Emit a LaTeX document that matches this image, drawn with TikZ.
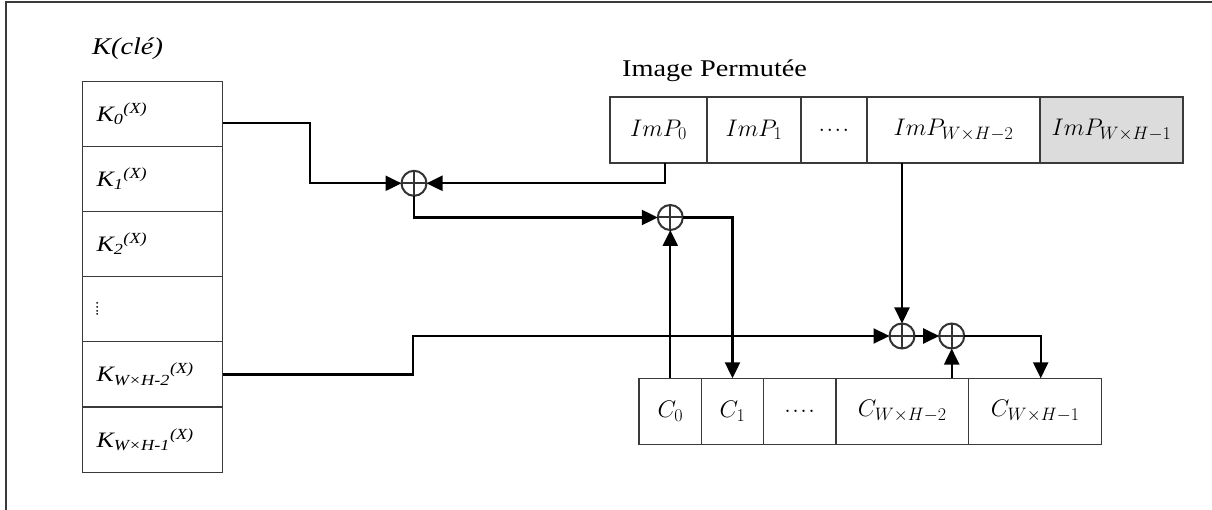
\RequirePackage{fix-cm}
\documentclass[tikz,border=0pt]{standalone}
\usepackage{fontspec}
\setmainfont{Liberation Serif}
\usetikzlibrary{arrows.meta,calc}
\DeclareMathSizes{24}{24}{18}{14}
\definecolor{boxgray}{HTML}{3A3A3A}
\definecolor{xorgray}{HTML}{333333}
\definecolor{cellfill}{HTML}{DCDCDC}
% slightly widened lettering
\newcommand{\sx}[1]{\scalebox{1.18}[1]{#1}}
\tikzset{
  cell/.style={draw=boxgray,line width=1.1pt,inner sep=0pt,outer sep=0pt,minimum height=65pt},
  kcell/.style={cell,minimum width=140pt,text width=112pt,align=left,inner xsep=14pt,
    font=\fontsize{22}{24}\selectfont\itshape},
  mcell/.style={cell,minimum height=66pt,font=\fontsize{24}{26}\selectfont},
  xorop/.style={circle,draw=xorgray,line width=2pt,minimum size=25pt,inner sep=0pt,outer sep=0pt,
    path picture={\draw[xorgray,line width=2pt]
      (path picture bounding box.north) -- (path picture bounding box.south)
      (path picture bounding box.west) -- (path picture bounding box.east);}},
  conn/.style={line width=2.2pt,-{Triangle[length=16pt,width=15pt]}},
  title/.style={inner sep=0pt,font=\fontsize{24}{26}\selectfont},
}
\begin{document}
\begin{tikzpicture}[x=1pt,y=-1pt]
\useasboundingbox (0,0) rectangle (1212,510);
% frame
\draw[line width=2pt,boxgray] (5.5,510) -- (5.5,2.5) -- (1212,2.5);

% key column
\node[title,anchor=base west] (ktitle) at (92,55) {\sx{\textit{K(clé)}}};
\node[kcell] (k0)  at (152.5,113.6) {\sx{K\textsubscript{0}\textsuperscript{(X)}}};
\node[kcell] (k1)  at (152.5,178.8) {\sx{K\textsubscript{1}\textsuperscript{(X)}}};
\node[kcell] (k2)  at (152.5,244.0) {\sx{K\textsubscript{2}\textsuperscript{(X)}}};
\node[kcell] (kd)  at (152.5,309.2) {\rotatebox{-90}{\fontsize{15}{15}\selectfont\upshape ....}};
\node[kcell] (kw2) at (152.5,374.4) {\sx{K\textsubscript{W×H-2}\textsuperscript{(X)}}};
\node[kcell] (kw1) at (152.5,439.6) {\sx{K\textsubscript{W×H-1}\textsuperscript{(X)}}};

% permuted image
\node[title,anchor=base west] (ptitle) at (622,77) {\sx{Image Permutée}};
\node[mcell,minimum width=97pt]  (imp0)  at (658.5,130) {$ImP_0$};
\node[mcell,minimum width=94pt]  (imp1)  at (754,130)   {$ImP_1$};
\node[mcell,minimum width=66pt]  (impd)  at (834,130)   {$.\hspace{1.5pt}.\hspace{1.5pt}.\hspace{1.5pt}.$};
\node[mcell,minimum width=173pt] (impw2) at (953.5,130) {$ImP_{W\times H-2}$};
\node[mcell,minimum width=143pt,fill=cellfill] (impw1) at (1111.5,130) {$ImP_{W\times H-1}$};

% cipher blocks
\node[mcell,minimum width=62.7pt] (c0)  at (670.3,411.3)  {$C_0$};
\node[mcell,minimum width=61.6pt] (c1)  at (732.5,411.3)  {$C_1$};
\node[mcell,minimum width=72.7pt] (cd)  at (799.6,411.3)  {$.\hspace{1.5pt}.\hspace{1.5pt}.\hspace{1.5pt}.$};
\node[mcell,minimum width=132.7pt] (cw2) at (902.3,411.3) {$C_{W\times H-2}$};
\node[mcell,minimum width=133pt] (cw1) at (1035.2,411.3)  {$C_{W\times H-1}$};

% xor operators
\node[xorop] (x1) at (414,183.3) {};
\node[xorop] (x2) at (670.3,217.5) {};
\node[xorop] (x3) at (902,336) {};
\node[xorop] (x4) at (951.7,336) {};

% connectors
\draw[conn] ([yshift=-9.5pt]k0.east) -- (310,123.1) |- (x1.west);
\draw[conn] ([xshift=6.5pt]imp0.south) |- (x1.east);
\draw[conn] (x1.south) |- (x2.west);
\draw[conn] (c0.north) -- (x2.south);
\draw[conn] (x2.east) -| (c1.north);
\draw[conn] (kw2.east) -- (413,374.4) |- (x3.west);
\draw[conn] (x3 |- impw2.south) -- (x3.north);
\draw[conn] (x3.east) -- (x4.west);
\draw[conn] (x4 |- cw2.north) -- (x4.south);
\draw[conn] (x4.east) -| ([xshift=5.5pt]cw1.north);
\end{tikzpicture}
\end{document}
